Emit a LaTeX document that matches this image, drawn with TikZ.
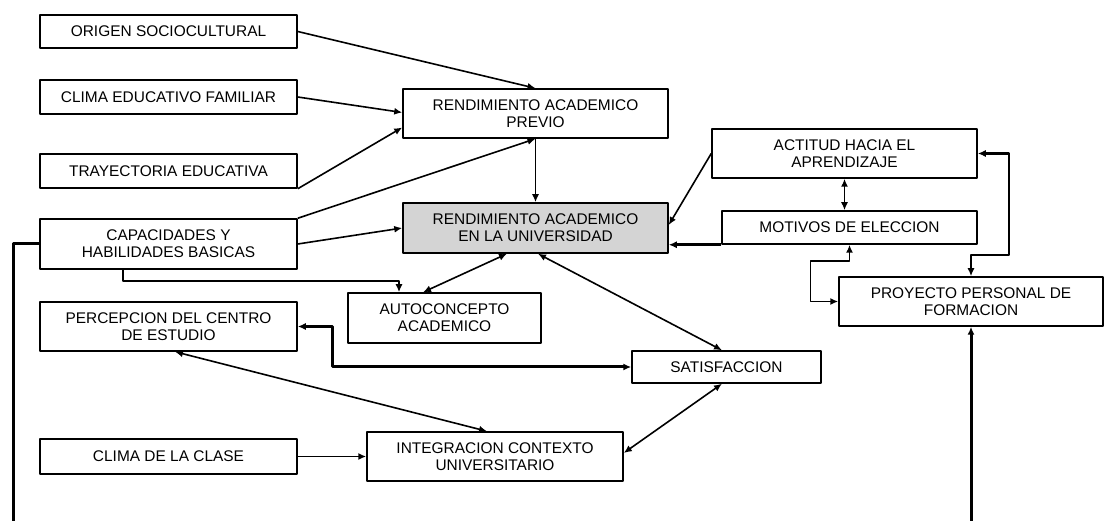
\documentclass[tikz,border=0pt]{standalone}
\usepackage{fontspec}
\setmainfont{Liberation Sans}
\usetikzlibrary{arrows.meta}
\definecolor{grisclaro}{RGB}{212,212,212}
\begin{document}
\begin{tikzpicture}[x=1bp,y=-1bp,line join=round,>={Latex[length=8bp,width=7bp]},line width=1.6bp]
	\tikzset{caja/.style={draw,line width=1.5bp,inner sep=0pt,align=center,font=\fontsize{15.5}{17}\selectfont},
		grueso/.style={line width=3bp}}
	\useasboundingbox (0,0) rectangle (1104,521);
	\node[caja,minimum width=257bp,minimum height=33bp] (origen) at (168.5,31.5) {ORIGEN SOCIOCULTURAL};
	\node[caja,minimum width=257bp,minimum height=34bp] (climaf) at (168.5,97) {CLIMA EDUCATIVO FAMILIAR};
	\node[caja,minimum width=257bp,minimum height=34bp] (trayect) at (168.5,171) {TRAYECTORIA EDUCATIVA};
	\node[caja,minimum width=257bp,minimum height=50bp] (capac) at (168.5,244) {CAPACIDADES Y\\HABILIDADES BASICAS};
	\node[caja,minimum width=257bp,minimum height=49bp] (percep) at (168.5,326.5) {PERCEPCION DEL CENTRO\\DE ESTUDIO};
	\node[caja,minimum width=257bp,minimum height=35bp] (climac) at (168.5,456.5) {CLIMA DE LA CLASE};
	\node[caja,minimum width=265bp,minimum height=49bp] (rap) at (535.5,113.5) {RENDIMIENTO ACADEMICO\\PREVIO};
	\node[caja,fill=grisclaro,minimum width=265bp,minimum height=50bp] (rau) at (535.5,228) {RENDIMIENTO ACADEMICO\\EN LA UNIVERSIDAD};
	\node[caja,minimum width=193bp,minimum height=50bp] (autoc) at (444.5,318) {AUTOCONCEPTO\\ACADEMICO};
	\node[caja,minimum width=189bp,minimum height=32bp] (satis) at (726.5,367) {SATISFACCION};
	\node[caja,minimum width=256bp,minimum height=49bp] (integ) at (495,456.5) {INTEGRACION CONTEXTO\\UNIVERSITARIO};
	\node[caja,minimum width=265bp,minimum height=49bp] (actitud) at (844.5,153.5) {ACTITUD HACIA EL\\APRENDIZAJE};
	\node[caja,minimum width=255bp,minimum height=33bp] (motivos) at (849.5,227.5) {MOTIVOS DE ELECCION};
	\node[caja,minimum width=264bp,minimum height=49bp] (proyecto) at (971,301.5) {PROYECTO PERSONAL DE\\FORMACION};
	\coordinate (cbase) at (13,521);
	\coordinate (pbase) at (971,521);
	\draw[->] (origen.east) -- (rap.north);
	\draw[->] (climaf.east) -- ([yshift=1bp]rap.west);
	\draw[->] (trayect.south east) -- ([yshift=-14bp]rap.west);
	\draw[->] (capac.north east) -- (rap.south);
	\draw[->] (capac.east) -- (rau.west);
	\draw[->] ([xshift=-45.5bp]capac.south) -- ++(0,11) -| ([xshift=-45.5bp]autoc.north);
	\draw[->] (rap.south) -- (rau.north);
	\draw[<->] ([xshift=-28.5bp]rau.south) -- ([xshift=-21.5bp]autoc.north);
	\draw[<->] ([xshift=2.5bp]rau.south) -- ([xshift=-4.5bp]satis.north);
	\draw[<->] ([xshift=-4.5bp]satis.south) -- ([yshift=3.5bp]integ.east);
	\draw[<->,grueso] (percep.east) -- ++(35,0) |- (satis.west);
	\draw[<->] ([xshift=6.5bp]percep.south) -- ([xshift=-8bp]integ.north);
	\draw[->] (climac.east) -- (integ.west);
	\draw[->] (actitud.west) -- ([yshift=3bp]rau.east);
	\draw[->,grueso] (motivos.south west) -- (rau.east |- motivos.south west);
	\draw[<->] (actitud.south) -- (actitud.south |- motivos.north);
	\draw[<->] (motivos.south) -- ++(0,16) -- ++(-39,0) |- (proyecto.west);
	\draw[<->,line width=2.2bp] (actitud.east) -- ++(31,0) -- ++(0,101.5) -| (proyecto.north);
	\draw[->,grueso] (pbase) -- (proyecto.south);
	\draw[grueso] (capac.west) -| (cbase);
\end{tikzpicture}
\end{document}
